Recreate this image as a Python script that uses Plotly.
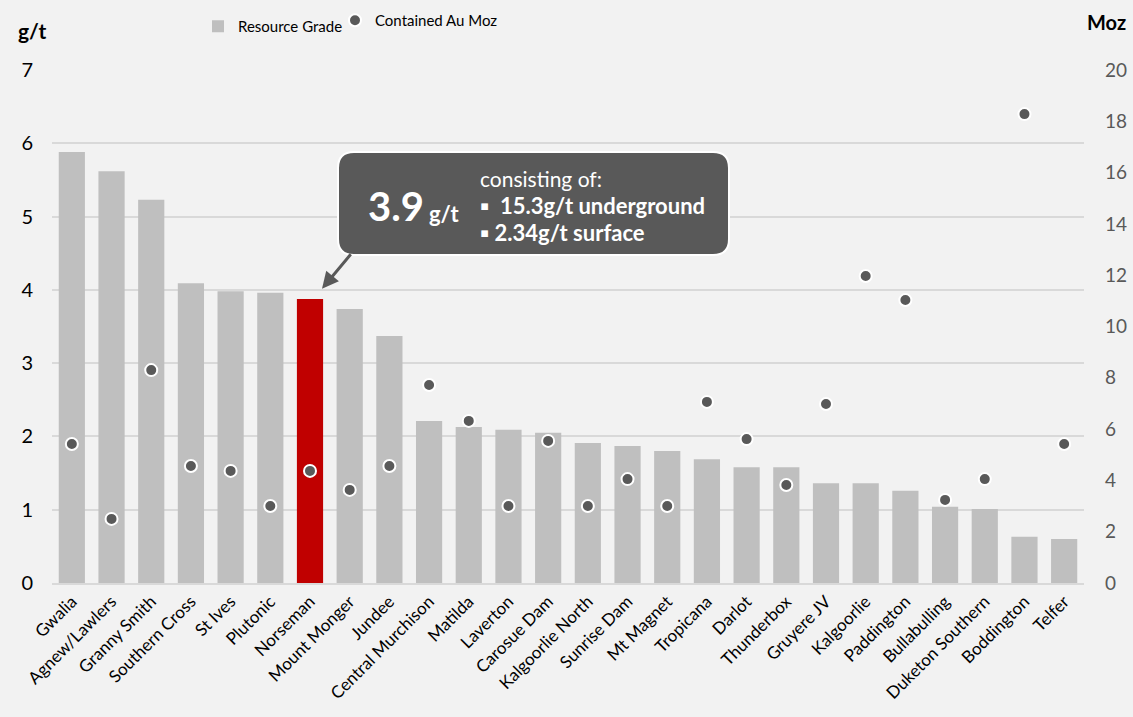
import plotly.graph_objects as go

mines = ["Gwalia", "Agnew/Lawlers", "Granny Smith", "Southern Cross", "St Ives", "Plutonic",
         "Norseman", "Mount Monger", "Jundee", "Central Murchison", "Matilda", "Laverton",
         "Carosue Dam", "Kalgoorlie North", "Sunrise Dam", "Mt Magnet", "Tropicana", "Darlot",
         "Thunderbox", "Gruyere JV", "Kalgoorlie", "Paddington", "Bullabulling",
         "Duketon Southern", "Boddington", "Telfer"]
grade_gt = [5.88, 5.62, 5.23, 4.09, 3.98, 3.96, 3.875, 3.74, 3.37, 2.21, 2.13, 2.09,
            2.05, 1.91, 1.87, 1.80, 1.69, 1.58, 1.58, 1.36, 1.36, 1.26, 1.04,
            1.01, 0.63, 0.60]
contained_moz = [5.42, 2.50, 8.30, 4.56, 4.37, 3.00, 4.37, 3.63, 4.56, 7.72, 6.32, 3.00,
                 5.54, 3.00, 4.05, 3.00, 7.06, 5.61, 3.82, 6.98, 11.97, 11.03, 3.24,
                 4.05, 18.28, 5.42]
highlight = "Norseman"
left_ticks = [0, 1, 2, 3, 4, 5, 6, 7]
right_ticks = [0, 2, 4, 6, 8, 10, 12, 14, 16, 18, 20]

FONT = "Lato"
bar_colors = ["#C00000" if m == highlight else "#BFBFBF" for m in mines]

fig = go.Figure()
fig.add_trace(go.Bar(
    x=mines, y=grade_gt, name="Resource Grade",
    marker=dict(color=bar_colors, line=dict(width=0)),
    yaxis="y", legend="legend",
))
fig.add_trace(go.Scatter(
    x=mines, y=contained_moz, name="Contained Au Moz", mode="markers",
    marker=dict(color="#595959", size=12, line=dict(color="white", width=2)),
    yaxis="y2", legend="legend2",
))

PL, PR, PT, PB = 52, 1084, 70, 583
W, H = 1133, 717

def px(x):
    return (x - PL) / (PR - PL)

def py(y):
    return (PB - y) / (PB - PT)

# rounded callout box in paper coords
x0, x1, y0, y1 = px(338), px(729), py(255), py(152)
rx = 16 / (PR - PL)
ry = 16 / (PB - PT)
path = (f"M {x0+rx},{y1} L {x1-rx},{y1} Q {x1},{y1} {x1},{y1-ry} "
        f"L {x1},{y0+ry} Q {x1},{y0} {x1-rx},{y0} L {x0+rx},{y0} "
        f"Q {x0},{y0} {x0},{y0+ry} L {x0},{y1-ry} Q {x0},{y1} {x0+rx},{y1} Z")
fig.add_shape(type="path", path=path, xref="paper", yref="paper",
              fillcolor="#595959", line=dict(color="white", width=2), layer="above")

# arrow to the highlighted bar
hi_idx = mines.index(highlight)
fig.add_annotation(x=hi_idx, y=grade_gt[hi_idx] + 0.14, xref="x", yref="y",
                   text="", showarrow=True, arrowhead=2, arrowsize=1.1, arrowwidth=3,
                   arrowcolor="#595959", ax=30, ay=-36, axref="pixel", ayref="pixel",
                   xshift=12)

def note(x, y, text, size, xanchor="center", color="white"):
    fig.add_annotation(x=px(x), y=py(y), xref="paper", yref="paper", showarrow=False,
                       xanchor=xanchor, yanchor="middle", text=text,
                       font=dict(family=FONT, size=size, color=color))

note(396, 206, "<b>3.9</b>", 40)
note(427, 213, "<b>g/t</b>", 22, xanchor="left")
note(478, 178, "consisting of:", 21, xanchor="left")
note(478, 205, "<b>▪  15.3g/t underground</b>", 22, xanchor="left")
note(478, 232, "<b>▪ 2.34g/t surface</b>", 22, xanchor="left")

# axis titles
note(32, 30, "<b>g/t</b>", 21, color="black")
note(1106, 22, "<b>Moz</b>", 20, color="black")

legend_common = dict(orientation="h", xref="container", yref="container",
                     xanchor="left", yanchor="top", bgcolor="rgba(0,0,0,0)",
                     font=dict(family=FONT, size=15, color="black"))

fig.update_layout(
    width=W, height=H,
    margin=dict(l=PL, r=W - PR, t=PT, b=H - PB, autoexpand=False),
    paper_bgcolor="#F2F2F2", plot_bgcolor="#F2F2F2",
    font=dict(family=FONT, color="black"),
    bargap=0.34,
    showlegend=True,
    legend=dict(x=198 / W, y=1 - 10 / H, **legend_common),
    legend2=dict(x=335 / W, y=1 - 4 / H, **legend_common),
    xaxis=dict(type="category", tickangle=-45, tickfont=dict(family=FONT, size=17, color="black"),
               showgrid=False, showline=True, linecolor="#D9D9D9", linewidth=2,
               ticks="", range=[-0.5, len(mines) - 0.5], automargin=False),
    yaxis=dict(range=[0, 7], tickvals=left_ticks, showgrid=True, gridcolor="#D9D9D9",
               gridwidth=2, zeroline=False, ticks="", ticklabelstandoff=18, automargin=False,
               tickfont=dict(family=FONT, size=20, color="black")),
    yaxis2=dict(range=[0, 20], tickvals=right_ticks, overlaying="y", side="right",
                showgrid=False, zeroline=False, ticks="", ticklabelstandoff=20, automargin=False,
                tickfont=dict(family=FONT, size=19, color="#595959")),
)

fig.write_html("out.html", config={"displayModeBar": False},
               post_script="document.body.style.margin='0';document.body.style.overflow='hidden';")
